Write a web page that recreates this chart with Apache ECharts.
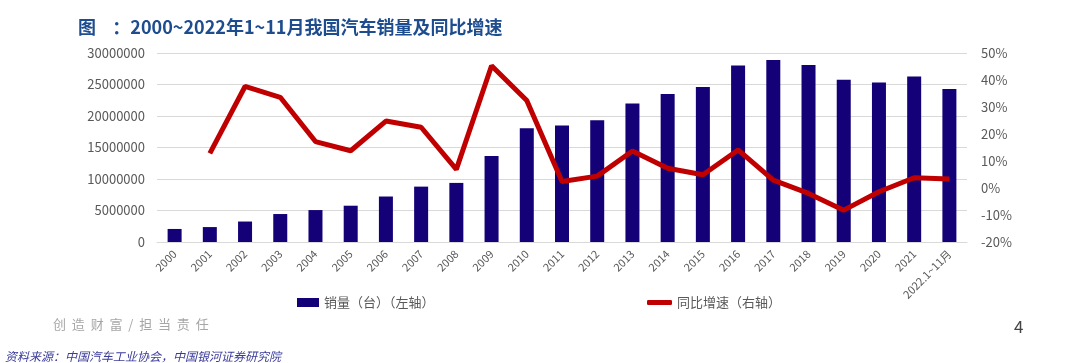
<!DOCTYPE html>
<html>
<head>
<meta charset="utf-8">
<script src="https://cdn.jsdelivr.net/npm/echarts@6/dist/echarts.min.js"></script>
<style>
html,body{margin:0;padding:0;background:#fff;}
#c{width:1080px;height:363px;}
</style>
</head>
<body>
<div id="c"></div>
<script>
const categories = ['2000','2001','2002','2003','2004','2005','2006','2007','2008','2009','2010','2011','2012','2013','2014','2015','2016','2017','2018','2019','2020','2021','2022.1~11月'];
const sales = [2070000,2370000,3250000,4440000,5070000,5760000,7220000,8790000,9380000,13640000,18060000,18510000,19310000,21980000,23490000,24600000,28030000,28880000,28080000,25770000,25310000,26270000,24300000];
const growth = [null,12.8,37.6,33.6,17.2,13.8,24.8,22.5,6.9,45.3,32.4,2.4,4.4,13.7,7.3,4.9,14.1,2.9,-2.0,-8.2,-1.4,3.8,3.3];
const leftTicks = {min:0, max:30000000, interval:5000000};
const rightTicks = {min:-20, max:50, interval:10};

const chart = echarts.init(document.getElementById('c'));
const font = '"Microsoft YaHei","Noto Sans CJK SC",sans-serif';
chart.setOption({
  animation:false,
  textStyle:{fontFamily:font},
  title:[
    {text:'图    ：2000~2022年1~11月我国汽车销量及同比增速', left:73, top:13,
     textStyle:{fontSize:18, fontWeight:'bold', color:'#1D4C8F', fontFamily:font}},
    {text:'创  造  财  富  /  担  当  责  任', left:48, top:313,
     textStyle:{fontSize:13, fontWeight:'normal', color:'#A6A6A6', fontFamily:font}},
    {text:'4', left:1009, top:313,
     textStyle:{fontSize:17, fontWeight:'normal', color:'#444', fontFamily:font}},
    {text:'资料来源：中国汽车工业协会，中国银河证券研究院', left:0, top:345,
     textStyle:{fontSize:12, fontWeight:'normal', fontStyle:'italic', color:'#3B3B9A', fontFamily:font}}
  ],
  grid:{left:157, right:113, top:53, bottom:121, containLabel:false},
  legend:[
    {data:[{name:'销量（台）（左轴）', icon:'rect'}], left:292, top:291, itemWidth:22, itemHeight:9, itemGap:2,
     textStyle:{fontSize:13, color:'#595959'}},
    {data:[{name:'同比增速（右轴）', icon:'roundRect'}], left:642, top:291, itemWidth:25, itemHeight:5,
     textStyle:{fontSize:13, color:'#595959'}}
  ],
  xAxis:{type:'category', data:categories,
    axisLine:{lineStyle:{color:'#D9D9D9'}}, axisTick:{show:false},
    axisLabel:{rotate:45, fontSize:11, color:'#595959', interval:0, margin:10}},
  yAxis:[
    {type:'value', min:leftTicks.min, max:leftTicks.max, interval:leftTicks.interval,
     axisLabel:{fontSize:13, color:'#595959', margin:12, formatter:function(v){return String(v);}},
     axisLine:{show:false}, axisTick:{show:false},
     splitLine:{lineStyle:{color:'#D9D9D9'}}},
    {type:'value', min:rightTicks.min, max:rightTicks.max, interval:rightTicks.interval,
     axisLabel:{fontSize:13, color:'#595959', margin:14, formatter:'{value}%'},
     axisLine:{show:false}, axisTick:{show:false}, splitLine:{show:false}}
  ],
  series:[
    {name:'销量（台）（左轴）', type:'bar', data:sales, barWidth:14, yAxisIndex:0,
     itemStyle:{color:'#140077'}},
    {name:'同比增速（右轴）', type:'line', data:growth, yAxisIndex:1, symbol:'none',
     lineStyle:{color:'#C00000', width:5}, itemStyle:{color:'#C00000'}, connectNulls:false}
  ]
});
</script>
</body>
</html>
